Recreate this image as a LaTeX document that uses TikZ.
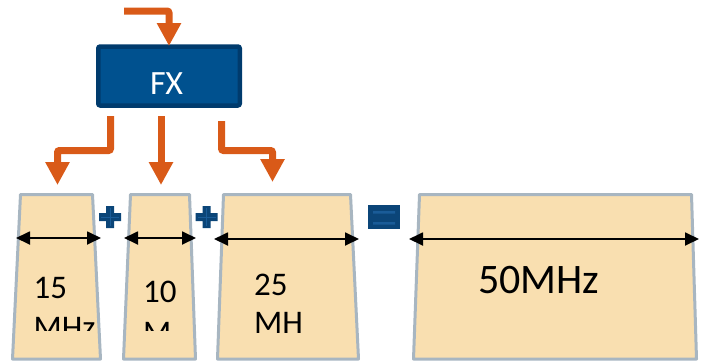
\documentclass[tikz,border=0pt]{standalone}
\usepackage{fontspec}
\setmainfont{Carlito}
\usetikzlibrary{arrows.meta}
\definecolor{orng}{HTML}{D95A18}
\definecolor{fxfill}{HTML}{00518F}
\definecolor{fxborder}{HTML}{003B6D}
\definecolor{wheatfill}{HTML}{F9DFB0}
\definecolor{boxborder}{HTML}{A8B6C1}
\definecolor{opblue}{HTML}{0B4578}
\definecolor{oplight}{HTML}{1A5C98}
\tikzset{
  orangearrow/.style={draw=orng, line width=7pt, rounded corners=2pt, -{Triangle[width=23pt,length=23pt]}},
  fxbox/.style={draw=fxborder, fill=fxfill, line width=4.5pt, minimum width=141.5pt, minimum height=59pt, rounded corners=2pt, inner sep=0pt},
  band/.style={draw=boxborder, fill=wheatfill, line width=3pt, line join=round},
  dimarrow/.style={draw=black, line width=1.8pt, {Triangle[width=13pt,length=14pt]}-{Triangle[width=13pt,length=14pt]}},
  lbl/.style={anchor=base west, inner sep=0pt, font=\fontsize{33}{40}\selectfont},
  biglbl/.style={anchor=base west, inner sep=0pt, font=\fontsize{42}{48}\selectfont},
  opsign/.style={fill=opblue},
}
\begin{document}
\begin{tikzpicture}[x=1pt,y=-1pt]
\useasboundingbox (0,0) rectangle (703,362);

% FX block
\node[fxbox] (fx) at (169,76) {};
\node[anchor=base west, inner sep=0pt, text=white, font=\fontsize{34}{40}\selectfont] (fxlabel) at (150,94.5) {FX};

% orange arrows
\coordinate (inA) at (124,11);
\coordinate (inB) at (169,46);
\draw[orangearrow] (inA) -| (inB);

\coordinate (l0) at (110.5,116);
\coordinate (l1) at (57.5,185);
\draw[orangearrow] (l0) -- ++(0,34.5) -| (l1);

\coordinate (m0) at (161,116);
\coordinate (m1) at (161,185);
\draw[orangearrow] (m0) -- (m1);

\coordinate (r0) at (221.5,121);
\coordinate (r1) at (272.5,182);
\draw[orangearrow] (r0) -- ++(0,29.5) -| (r1);

% bands
\draw[band] (20.5,194.5) -- (92.5,194.5) -- (100.5,359) -- (12.5,359) -- cycle;
\draw[band] (130.5,194.5) -- (189.5,194.5) -- (195.5,359) -- (123.5,359) -- cycle;
\draw[band] (223.5,194.5) -- (350.5,194.5) -- (358.5,359) -- (217.5,359) -- cycle;
\draw[band] (419.5,194.5) -- (691.5,194.5) -- (696.5,359) -- (413.5,359) -- cycle;

% dimension arrows
\coordinate (a1) at (16,238);  \coordinate (b1) at (101,238);
\coordinate (a2) at (124,238); \coordinate (b2) at (196,238);
\coordinate (a3) at (214,239); \coordinate (b3) at (359,239);
\coordinate (a4) at (409,239); \coordinate (b4) at (699,239);
\draw[dimarrow] (a1) -- (b1);
\draw[dimarrow] (a2) -- (b2);
\draw[dimarrow] (a3) -- (b3);
\draw[dimarrow] (a4) -- (b4);

% plus signs
\fill[opsign] (99,213) rectangle (121,221) (106,206) rectangle (114,228);
\draw[oplight, line width=0.5pt] (101,217) -- (119,217) (110,208) -- (110,226);
\fill[opsign] (195.5,213) rectangle (217.5,221) (202.5,206) rectangle (210.5,228);
\draw[oplight, line width=0.5pt] (197.5,217) -- (215.5,217) (206.5,208) -- (206.5,226);

% equals sign
\fill[opsign] (368,205) rectangle (400,229);
\fill[oplight] (373,211) rectangle (395,213.5) (373,222) rectangle (395,224.5);

% labels
\begin{scope}
\clip (0,0) rectangle (703,330);
\node[lbl] (t15) at (33.5,298) {15};
\node[lbl] (t15u) at (33.5,338) {MHz};
\node[lbl] (t10) at (143,302) {10};
\node[lbl] (t10u) at (143,343) {M};
\end{scope}
\node[lbl] (t25) at (254,295) {25};
\node[lbl] (t25u) at (254,333) {MH};
\node[biglbl] (t50) at (478,293) {50MHz};
\end{tikzpicture}
\end{document}
